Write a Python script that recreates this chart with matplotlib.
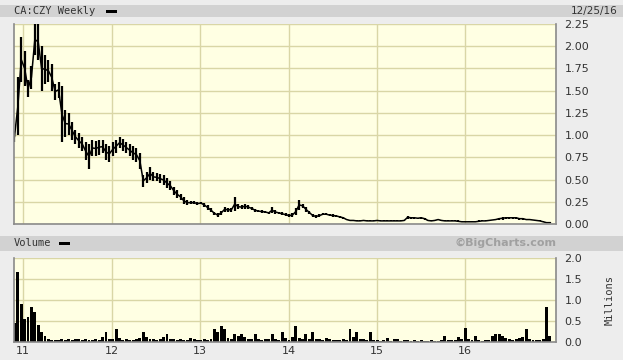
#import matplotlib libary
import matplotlib.pyplot as plt
from matplotlib.patches import Rectangle
import numpy as np
import pandas as pd

#biweekly price range (high / low) and volume in millions
price_high = [1.05, 1.65, 2.10, 1.95, 1.62, 1.78, 2.25, 2.25, 2.00, 1.90,
              1.85, 1.80, 1.58, 1.60, 1.55, 1.28, 1.25, 1.15, 1.06, 1.02,
              0.98, 0.92, 0.90, 0.95, 0.93, 0.95, 0.94, 0.90, 0.88, 0.92,
              0.95, 0.98, 0.96, 0.92, 0.90, 0.88, 0.86, 0.80, 0.55, 0.58,
              0.64, 0.58, 0.57, 0.56, 0.55, 0.52, 0.48, 0.42, 0.38, 0.34,
              0.30, 0.27, 0.26, 0.26, 0.25, 0.25, 0.24, 0.21, 0.18, 0.14,
              0.12, 0.15, 0.19, 0.18, 0.18, 0.30, 0.22, 0.21, 0.23, 0.21,
              0.19, 0.17, 0.16, 0.16, 0.15, 0.14, 0.19, 0.16, 0.14, 0.13,
              0.12, 0.11, 0.12, 0.18, 0.27, 0.23, 0.19, 0.15, 0.11, 0.10,
              0.11, 0.12, 0.12, 0.11, 0.11, 0.10, 0.09, 0.08, 0.06, 0.05,
              0.05, 0.04, 0.04, 0.05, 0.04, 0.04, 0.04, 0.05, 0.04, 0.04,
              0.04, 0.04, 0.04, 0.04, 0.04, 0.05, 0.09, 0.08, 0.08, 0.07,
              0.08, 0.07, 0.05, 0.04, 0.05, 0.06, 0.05, 0.04, 0.04, 0.04,
              0.04, 0.04, 0.03, 0.03, 0.03, 0.03, 0.03, 0.04, 0.04, 0.04,
              0.05, 0.05, 0.06, 0.07, 0.08, 0.08, 0.08, 0.08, 0.08, 0.07,
              0.07, 0.06, 0.06, 0.05, 0.05, 0.04, 0.03, 0.02, 0.02]
price_low = [0.92, 1.00, 1.60, 1.55, 1.43, 1.52, 1.90, 1.85, 1.50, 1.58,
             1.60, 1.50, 1.40, 1.42, 0.92, 0.98, 1.00, 0.95, 0.90, 0.85,
             0.82, 0.72, 0.62, 0.76, 0.77, 0.78, 0.80, 0.72, 0.70, 0.76,
             0.80, 0.85, 0.82, 0.80, 0.76, 0.72, 0.70, 0.62, 0.42, 0.46,
             0.50, 0.48, 0.48, 0.46, 0.44, 0.40, 0.38, 0.33, 0.29, 0.27,
             0.22, 0.21, 0.22, 0.22, 0.21, 0.22, 0.19, 0.16, 0.13, 0.10,
             0.08, 0.10, 0.14, 0.14, 0.14, 0.15, 0.17, 0.17, 0.17, 0.17,
             0.16, 0.14, 0.13, 0.12, 0.12, 0.11, 0.12, 0.11, 0.11, 0.10,
             0.09, 0.08, 0.08, 0.10, 0.16, 0.18, 0.14, 0.11, 0.08, 0.07,
             0.08, 0.10, 0.10, 0.09, 0.08, 0.08, 0.07, 0.06, 0.04, 0.03,
             0.03, 0.03, 0.03, 0.03, 0.03, 0.03, 0.03, 0.03, 0.03, 0.03,
             0.03, 0.03, 0.03, 0.03, 0.03, 0.03, 0.06, 0.06, 0.06, 0.06,
             0.06, 0.05, 0.03, 0.03, 0.03, 0.04, 0.03, 0.03, 0.03, 0.03,
             0.03, 0.02, 0.02, 0.02, 0.02, 0.02, 0.02, 0.02, 0.03, 0.03,
             0.03, 0.04, 0.04, 0.05, 0.05, 0.06, 0.06, 0.06, 0.06, 0.05,
             0.05, 0.04, 0.04, 0.04, 0.03, 0.03, 0.02, 0.01, 0.01]
volume = [0.45, 1.67, 0.90, 0.55, 0.60, 0.83, 0.72, 0.40, 0.25, 0.15,
          0.08, 0.05, 0.04, 0.05, 0.06, 0.05, 0.08, 0.05, 0.07, 0.06,
          0.05, 0.06, 0.04, 0.05, 0.06, 0.05, 0.12, 0.24, 0.08, 0.06,
          0.30, 0.10, 0.05, 0.06, 0.04, 0.05, 0.06, 0.10, 0.24, 0.12,
          0.08, 0.06, 0.05, 0.08, 0.12, 0.20, 0.08, 0.06, 0.05, 0.06,
          0.04, 0.05, 0.10, 0.06, 0.05, 0.04, 0.06, 0.05, 0.08, 0.30,
          0.25, 0.38, 0.30, 0.10, 0.08, 0.20, 0.15, 0.20, 0.12, 0.08,
          0.06, 0.20, 0.06, 0.05, 0.08, 0.06, 0.20, 0.08, 0.05, 0.24,
          0.10, 0.05, 0.12, 0.38, 0.10, 0.08, 0.20, 0.08, 0.24, 0.08,
          0.06, 0.05, 0.10, 0.06, 0.05, 0.04, 0.05, 0.06, 0.05, 0.30,
          0.12, 0.24, 0.08, 0.06, 0.05, 0.24, 0.05, 0.04, 0.03, 0.04,
          0.10, 0.03, 0.06, 0.08, 0.03, 0.04, 0.05, 0.03, 0.04, 0.03,
          0.04, 0.03, 0.03, 0.04, 0.03, 0.03, 0.04, 0.15, 0.05, 0.04,
          0.05, 0.12, 0.06, 0.33, 0.08, 0.05, 0.15, 0.05, 0.03, 0.04,
          0.05, 0.15, 0.18, 0.20, 0.15, 0.10, 0.06, 0.04, 0.08, 0.10,
          0.12, 0.30, 0.06, 0.05, 0.04, 0.05, 0.08, 0.83, 0.15]
dates = pd.date_range("2010-11-26", periods=len(price_high), freq="14D")

year_ticks = pd.to_datetime(["2011-01-01", "2012-01-01", "2013-01-01",
                             "2014-01-01", "2015-01-01", "2016-01-01"])
year_labels = ["11", "12", "13", "14", "15", "16"]
price_ticks = [0.00, 0.25, 0.50, 0.75, 1.00, 1.25, 1.50, 1.75, 2.00, 2.25]
vol_ticks = [0.0, 0.5, 1.0, 1.5, 2.0]

W, H = 623, 360
fig = plt.figure(figsize=(W / 100, H / 100), dpi=100, facecolor="#ededed")

#header bars
fig.patches.append(Rectangle((0, 1 - 17 / H), 1, 12 / H, transform=fig.transFigure,
                             facecolor="#d2d2d2", edgecolor="none", zorder=0))
fig.patches.append(Rectangle((0, 1 - 251 / H), 1, 15 / H, transform=fig.transFigure,
                             facecolor="#d2d2d2", edgecolor="none", zorder=0))

left, width = 14 / W, 542 / W
ax1 = fig.add_axes([left, 1 - 224 / H, width, 200 / H])
ax2 = fig.add_axes([left, 1 - 342 / H, width, 84 / H])

xmin = pd.Timestamp("2010-11-24")
xmax = pd.Timestamp("2017-01-10")

for ax in (ax1, ax2):
    ax.set_facecolor("#ffffe3")
    ax.set_xlim(xmin, xmax)
    ax.set_xticks(year_ticks)
    ax.grid(True, color="#d9d6a6", linewidth=1)
    ax.set_axisbelow(True)
    ax.yaxis.tick_right()
    ax.tick_params(length=0, labelsize=8, colors="#333333", pad=6)
    for s in ("left", "bottom", "right"):
        ax.spines[s].set_color("#8a8a8a")
        ax.spines[s].set_linewidth(1.2)
    ax.spines["top"].set_visible(False)

#price panel
mid = (np.array(price_high) + np.array(price_low)) / 2
ax1.vlines(dates, price_low, price_high, color="black", linewidth=1.6)
ax1.plot(dates, mid, color="black", linewidth=1.1)
ax1.set_ylim(0, 2.25)
ax1.set_yticks(price_ticks)
ax1.set_yticklabels(["%.2f" % v for v in price_ticks])
ax1.set_xticklabels([])

#volume panel
ax2.bar(dates, volume, width=12, color="black", linewidth=0)
ax2.set_ylim(0, 2.0)
ax2.set_yticks(vol_ticks)
ax2.set_yticklabels(["%.1f" % v for v in vol_ticks])
ax2.set_xticklabels(year_labels)
ax2.tick_params(axis="x", pad=3)

#texts
fig.text(14 / W, 1 - 11 / H, "CA:CZY Weekly", fontsize=7.5, color="#333333",
         va="center", ha="left", family="DejaVu Sans Mono")
fig.patches.append(Rectangle((106 / W, 1 - 12.5 / H), 11 / W, 3 / H,
                             transform=fig.transFigure, facecolor="black"))
fig.text(618 / W, 1 - 11 / H, "12/25/16", fontsize=7.5, color="#333333",
         va="center", ha="right")
fig.text(14 / W, 1 - 243 / H, "Volume", fontsize=7.5, color="#333333",
         va="center", ha="left", family="DejaVu Sans Mono")
fig.patches.append(Rectangle((59 / W, 1 - 244.5 / H), 11 / W, 3 / H,
                             transform=fig.transFigure, facecolor="black"))
fig.text(556 / W, 1 - 243 / H, "\u00a9BigCharts.com", fontsize=8, color="#a0a0a0",
         va="center", ha="right", fontweight="bold")
fig.text(610 / W, 1 - 300 / H, "Millions", fontsize=7.5, color="#333333",
         va="center", ha="center", rotation=90, family="DejaVu Sans Mono")

fig.savefig("out.png", dpi=100, facecolor=fig.get_facecolor())
